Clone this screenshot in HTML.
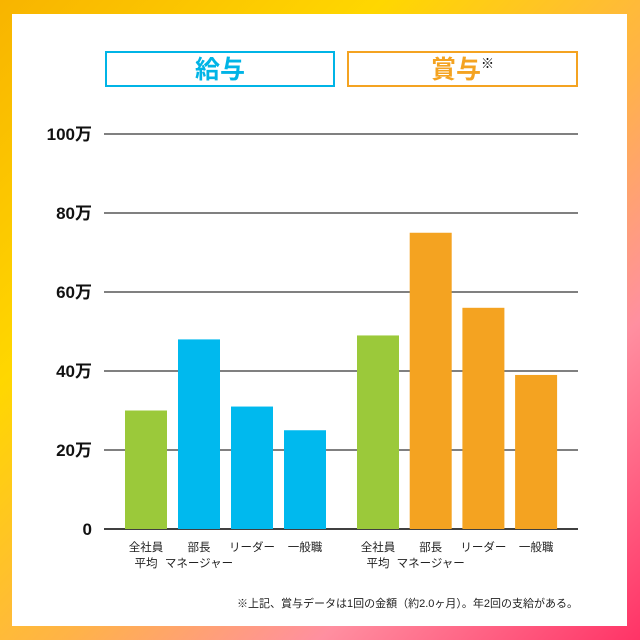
<!DOCTYPE html>
<html><head><meta charset="utf-8"><style>
html,body{margin:0;padding:0;}
body{width:640px;height:640px;position:relative;overflow:hidden;font-family:"Liberation Sans","Noto Sans CJK JP",sans-serif;
background:linear-gradient(135deg,#f8b400 0%,#ffd700 30%,#ffb347 55%,#ff8fa0 75%,#ff3366 100%);}
#panel{position:absolute;left:12px;top:14px;width:615px;height:612px;background:#fff;}
.hdr{position:absolute;top:51px;height:36px;box-sizing:border-box;border:2px solid;text-align:center;font-weight:bold;font-size:25px;line-height:34px;}
</style></head><body>
<div id="panel"></div>
<div class="hdr" style="left:85px;width:250px;border-color:#00b4e6;color:#00b4e6;left:105px;width:230px;">給与</div>
<div class="hdr" style="left:347px;width:231px;border-color:#f4a321;color:#f4a321;">賞与<span style="font-size:13px;color:#000;vertical-align:top;position:relative;top:-6px;font-weight:normal">※</span></div>
<svg id="chart" width="640" height="640" style="position:absolute;left:0;top:0"></svg>
<script>
const categories=["全社員\n平均","部長\nマネージャー","リーダー","一般職","全社員\n平均","部長\nマネージャー","リーダー","一般職"];
const values=[30,48,31,25,49,75,56,39];
const colors=["#9bc93a","#00b9ee","#00b9ee","#00b9ee","#9bc93a","#f4a321","#f4a321","#f4a321"];
const ticks=[0,20,40,60,80,100];
const tickLabels=["0","20万","40万","60万","80万","100万"];
const NS="http://www.w3.org/2000/svg";
const svg=document.getElementById('chart');
const y=v=>529-v*3.95;
const barX=i=>(i<4?125+i*53:357+(i-4)*52.7);
function mk(t,a){const e=document.createElementNS(NS,t);for(const k in a)e.setAttribute(k,a[k]);svg.appendChild(e);return e;}
ticks.forEach((t,i)=>{
 const l=mk('line',{x1:104,x2:578,y1:y(t),y2:y(t),stroke:'#000','stroke-width':t===0?1.5:1});
 
 
 const tx=mk('text',{x:92,y:y(t)+6,'text-anchor':'end','font-size':17,'font-weight':'bold',fill:'#111'});
 tx.textContent=tickLabels[i];
 
 
});
values.forEach((v,i)=>{
 const r=mk('rect',{x:barX(i),y:y(v),width:42,height:529-y(v),fill:colors[i]});
 
 
 categories[i].split('\n').forEach((s,j)=>{
  const t=mk('text',{x:barX(i)+21,y:551+j*16,'text-anchor':'middle','font-size':11.5,fill:'#222'});
  t.textContent=s;
  
  
 });
});
const n=mk('text',{x:578,y:607,'text-anchor':'end','font-size':11,fill:'#222'});
n.textContent='※上記、賞与データは1回の金額（約2.0ヶ月）。年2回の支給がある。';


</script>
</body></html>
